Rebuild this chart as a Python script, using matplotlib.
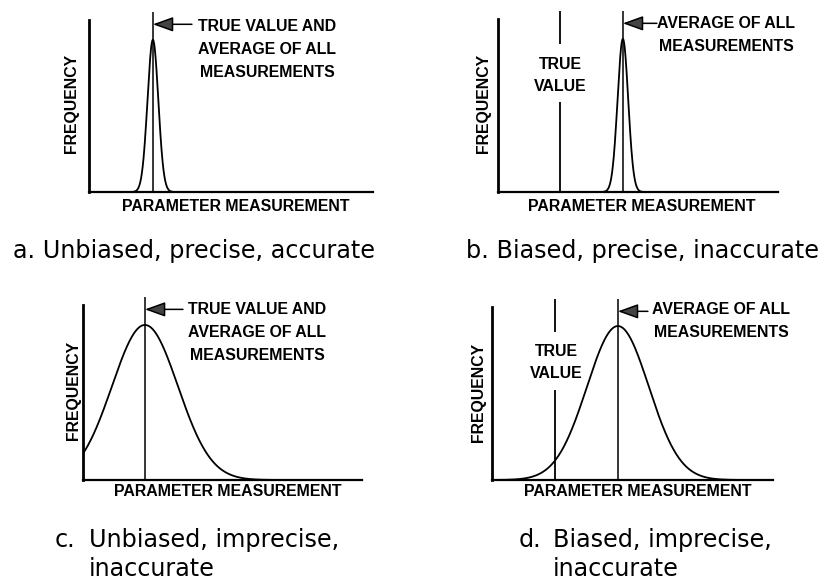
"""
偏差与精度示意图 (四个分布)
"""
import numpy as np
import matplotlib.pyplot as plt

plt.rcParams['font.family'] = ['Liberation Sans', 'DejaVu Sans']

W, H = 827, 584  # 画布像素

# 数据: x 轴为 0-100 的相对刻度, y 轴为 0-1 的相对频率
true_value = [22.5, 22.1, 22.2, 22.4]
average = [22.5, 44.6, 22.2, 44.8]
spread = [1.9, 1.9, 11.8, 11.0]
peak = [0.885, 0.885, 0.886, 0.89]
biased = [False, True, False, True]
notes = [['TRUE VALUE AND', 'AVERAGE OF ALL', 'MEASUREMENTS'],
         ['AVERAGE OF ALL', 'MEASUREMENTS'],
         ['TRUE VALUE AND', 'AVERAGE OF ALL', 'MEASUREMENTS'],
         ['AVERAGE OF ALL', 'MEASUREMENTS']]
tags = ['a.', 'b.', 'c.', 'd.']
captions = [['Unbiased, precise, accurate'],
            ['Biased, precise, inaccurate'],
            ['Unbiased, imprecise,', 'inaccurate'],
            ['Biased, imprecise,', 'inaccurate']]

# 版面 (像素)
boxes = [(89, 373, 20, 192), (498, 778, 19, 192), (83, 362, 305, 480), (492, 773, 307, 480)]
freq_xy = [(72, 103), (484, 103), (73, 390), (478, 392)]
pm_xy = [(236, 207), (642, 207), (228, 492), (638, 492)]
note_xy = [(267, 25), (726, 22), (257, 308), (721, 308)]
arrow_len = [39, 34, 38, 30]
tv_xy = [None, (560, 63), None, (556, 350)]
tag_xy = [(13, 258), (466, 258), (55, 547), (519, 547)]
cap_x = [None, None, 89, 553]

BOLD = 11.4
CAP = 17.2
CAP_FONT = 'DejaVu Sans'
HALF_CAP = 5.7  # 粗体大写字母半高 (像素)


def fx(x):
    return x / W


def fy(y):
    return 1 - y / H


def lines(x, y, rows, step, **kw):
    # 逐行写字, y 为第一行大写字母的中心
    for k, row in enumerate(rows):
        fig.text(fx(x), fy(y + HALF_CAP + k * step), row, ha='center', va='baseline',
                 fontsize=BOLD, fontweight='bold', **kw)


fig = plt.figure(figsize=(8.27, 5.84), dpi=100)
xs = np.linspace(0, 100, 1000)

for i in range(4):
    l, r, t, b = boxes[i]
    ax = fig.add_axes([fx(l), fy(b), (r - l) / W, (b - t) / H])
    ax.set_xlim(0, 100)
    ax.set_ylim(0, 1)
    for s in ['top', 'right']:
        ax.spines[s].set_visible(False)
    ax.spines['left'].set_linewidth(2)
    ax.spines['bottom'].set_linewidth(1.6)
    ax.set_xticks([])
    ax.set_yticks([])
    ax.patch.set_alpha(0)

    ys = peak[i] * np.exp(-0.5 * ((xs - average[i]) / spread[i]) ** 2)
    ax.plot(xs, ys, color='black', lw=1.3)
    ax.vlines(average[i], 0, 1.045, color='black', lw=1.1, clip_on=False)
    if biased[i]:
        ax.vlines([true_value[i], true_value[i]], [0, 0.855], [0.52, 1.045],
                  color='black', lw=1.3, clip_on=False)
        x, y = tv_xy[i]
        lines(x, y, ['TRUE', 'VALUE'], 22)

    ax.annotate('', xy=(average[i], 0.975), xytext=(arrow_len[i], 0), textcoords='offset pixels',
                arrowprops=dict(arrowstyle='-|>,head_length=1.25,head_width=0.45',
                                fc='#444444', ec='black', lw=1.1, shrinkA=0, shrinkB=0),
                annotation_clip=False)
    x, y = note_xy[i]
    lines(x, y, notes[i], 23)

    x, y = freq_xy[i]
    fig.text(fx(x), fy(y), 'FREQUENCY', rotation=90, ha='center', va='center',
             fontsize=BOLD, fontweight='bold')
    x, y = pm_xy[i]
    fig.text(fx(x), fy(y), 'PARAMETER MEASUREMENT', ha='center', va='center',
             fontsize=BOLD, fontweight='bold')

    # 图注
    x, y = tag_xy[i]
    if cap_x[i] is None:
        fig.text(fx(x), fy(y), tags[i] + ' ' + captions[i][0], ha='left', va='baseline',
                 fontsize=CAP, family=CAP_FONT)
    else:
        fig.text(fx(x), fy(y), tags[i], ha='left', va='baseline', fontsize=CAP, family=CAP_FONT)
        for k, row in enumerate(captions[i]):
            fig.text(fx(cap_x[i]), fy(y + k * 29), row, ha='left', va='baseline',
                     fontsize=CAP, family=CAP_FONT)

plt.savefig('out.png', dpi=100)
